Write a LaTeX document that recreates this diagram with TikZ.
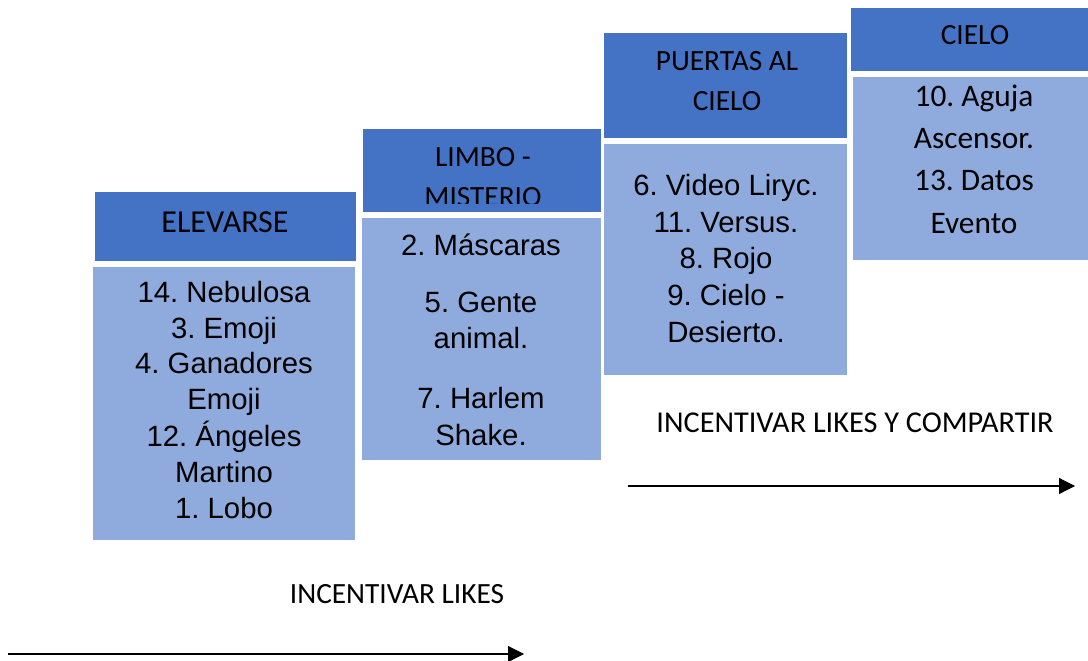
\documentclass[tikz,border=0pt]{standalone}
\usepackage{fontspec}
\setmainfont{Liberation Sans}
\newfontfamily\headfont{Carlito}
\usepackage{tikz}
\usetikzlibrary{arrows.meta}
\definecolor{stepdark}{HTML}{4472C4}
\definecolor{steplight}{HTML}{8FAADC}
\frenchspacing

\begin{document}
\begin{tikzpicture}[x=0.75pt, y=-0.75pt]
    \tikzset{
        step head/.style={fill=stepdark, draw=white, line width=1.2pt},
        step body/.style={fill=steplight, draw=white, line width=1.2pt},
        head text/.style={
                font=\headfont\fontsize{22}{26}\selectfont,
                anchor=base, inner sep=0pt
            },
        item text/.style={
                font=\fontsize{22}{26}\selectfont,
                anchor=base, inner sep=0pt
            },
        trend arrow/.style={-{Triangle[length=12pt, width=12pt]}, line width=0.9pt}
    }
    \useasboundingbox (0,0) rectangle (1088,660);

    % Elevarse
    \draw[step head] (94,191) rectangle (357,262);
    \draw[step body] (92,266) rectangle (356,541);
    \node[head text, font=\headfont\fontsize{24}{28}\selectfont] (elev) at (225,232) {ELEVARSE};
    \foreach \y/\txt [count=\i] in {302/14. Nebulosa, 338/3. Emoji, 373/4. Ganadores, 409/Emoji,
            446/12. Ángeles, 482/Martino, 518/1. Lobo}
        \node[item text] (elev-\i) at (224,\y) {\txt};

    % Limbo
    \draw[step head] (362,128) rectangle (602,213);
    \draw[step body] (361,217) rectangle (602,461);
    \node[head text] (limbo) at (483,166) {LIMBO -};
    \begin{scope}
        \clip (362,128) rectangle (602,203);
        \node[head text] (limbo-2) at (483,206) {MISTERIO};
    \end{scope}
    \foreach \y/\txt [count=\i] in {255/2. Máscaras, 312/5. Gente, 348/animal., 408/7. Harlem, 445/Shake.}
        \node[item text] (limbo-\i) at (481,\y) {\txt};

    % Puertas al cielo
    \draw[step head] (603,32) rectangle (848,139);
    \draw[step body] (603,143) rectangle (848,376);
    \node[head text] (puertas) at (727,70) {PUERTAS AL};
    \node[head text] (puertas-2) at (727,110) {CIELO};
    \foreach \y/\txt [count=\i] in {195/6. Video Liryc., 232/11. Versus., 268/8. Rojo, 305/9. Cielo -, 342/Desierto.}
        \node[item text] (puertas-\i) at (726,\y) {\txt};

    % Cielo
    \draw[step head] (850,7) rectangle (1094,72);
    \draw[step body] (852,76) rectangle (1094,261);
    \node[head text] (cielo) at (975,45) {CIELO};
    \foreach \y/\txt [count=\i] in {107/10. Aguja, 148/Ascensor., 190/13. Datos, 233/Evento}
        \node[head text, font=\headfont\fontsize{23.5}{28}\selectfont] (cielo-\i) at (974,\y) {\txt};

    % Arrows
    \node[head text, font=\headfont\fontsize{22.7}{27}\selectfont] (likes-all) at (855,432) {INCENTIVAR LIKES Y COMPARTIR};
    \coordinate (all-start) at (628,486);
    \coordinate (all-end) at (1075,486);
    \draw[trend arrow] (all-start) -- (all-end);

    \node[head text] (likes) at (397,603) {INCENTIVAR LIKES};
    \coordinate (likes-start) at (8,654);
    \coordinate (likes-end) at (524,654);
    \draw[trend arrow] (likes-start) -- (likes-end);
\end{tikzpicture}
\end{document}
